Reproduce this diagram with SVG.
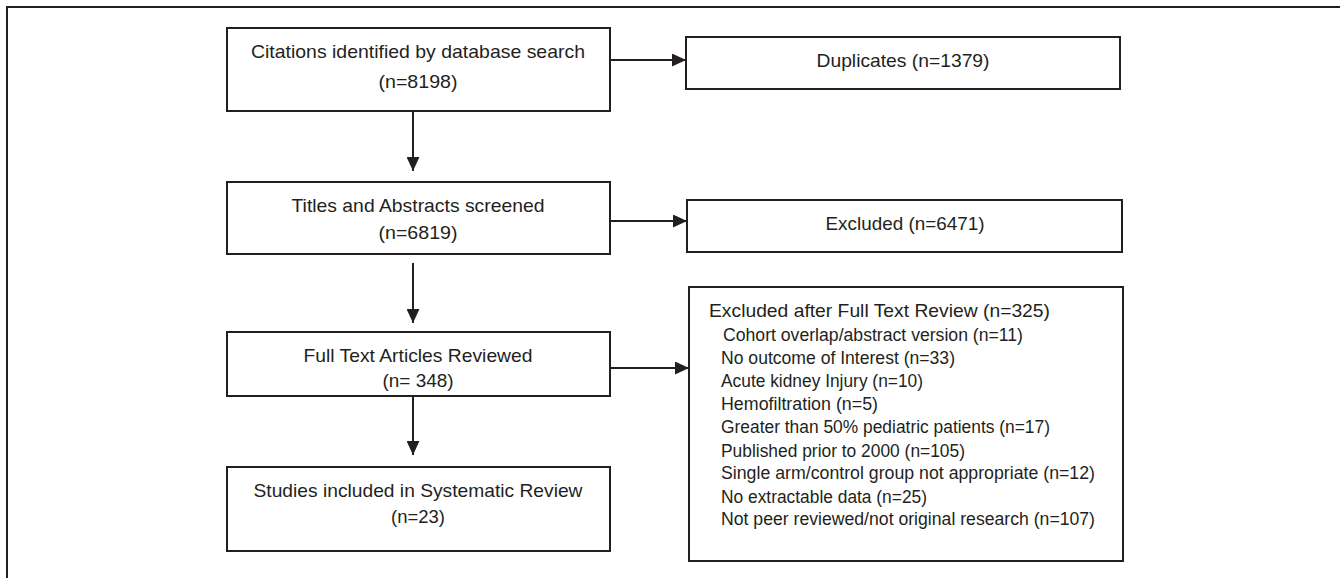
<svg xmlns="http://www.w3.org/2000/svg" width="1340" height="578" viewBox="0 0 1340 578">
<style>
.box{fill:#fff;stroke:#231f20;stroke-width:2}
.t{font-family:"Liberation Sans",Arial,sans-serif;font-size:19px;fill:#231f20;text-anchor:middle}
.h{font-family:"Liberation Sans",Arial,sans-serif;font-size:18.5px;fill:#231f20}
.i{font-family:"Liberation Sans",Arial,sans-serif;font-size:17.5px;fill:#231f20}
.c{fill:none;stroke:#231f20;stroke-width:2}
.frame{fill:none;stroke:#231f20;stroke-width:2}
</style>
<defs>
<marker id="ah" markerUnits="userSpaceOnUse" markerWidth="14" markerHeight="13" refX="14" refY="6.5" orient="auto">
<path d="M0,0 L14,6.5 L0,13 z" fill="#231f20"/>
</marker>
</defs>
<rect width="1340" height="578" fill="#fff"/>
<path class="frame" d="M7,578 V7 H1340"/>
<g id="connectors">
<path class="c" d="M610,60 H686" marker-end="url(#ah)"/>
<path class="c" d="M610,221 H687" marker-end="url(#ah)"/>
<path class="c" d="M610,368 H689" marker-end="url(#ah)"/>
<path class="c" d="M413,111 V171" marker-end="url(#ah)"/>
<path class="c" d="M413,263 V323" marker-end="url(#ah)"/>
<path class="c" d="M413,396 V455" marker-end="url(#ah)"/>
</g>
<g id="citations">
<rect class="box" x="227" y="28" width="383" height="83"/>
<text class="t" x="418" y="58" textLength="334" lengthAdjust="spacingAndGlyphs">Citations identified by database search</text>
<text class="t" x="418" y="88" textLength="79" lengthAdjust="spacingAndGlyphs">(n=8198)</text>
</g>
<g id="duplicates">
<rect class="box" x="686" y="37" width="434" height="52"/>
<text class="t" x="903" y="67" textLength="173" lengthAdjust="spacingAndGlyphs">Duplicates (n=1379)</text>
</g>
<g id="titles">
<rect class="box" x="227" y="182" width="383" height="72"/>
<text class="t" x="418" y="212" textLength="253" lengthAdjust="spacingAndGlyphs">Titles and Abstracts screened</text>
<text class="t" x="418" y="239" textLength="79" lengthAdjust="spacingAndGlyphs">(n=6819)</text>
</g>
<g id="excluded">
<rect class="box" x="687" y="200" width="435" height="52"/>
<text class="t" x="905" y="230" textLength="159" lengthAdjust="spacingAndGlyphs">Excluded (n=6471)</text>
</g>
<g id="fulltext">
<rect class="box" x="227" y="332" width="383" height="64"/>
<text class="t" x="418" y="362" textLength="229" lengthAdjust="spacingAndGlyphs">Full Text Articles Reviewed</text>
<text class="t" x="418" y="387" textLength="71" lengthAdjust="spacingAndGlyphs">(n= 348)</text>
</g>
<g id="included">
<rect class="box" x="227" y="467" width="383" height="84"/>
<text class="t" x="418" y="497" textLength="329" lengthAdjust="spacingAndGlyphs">Studies included in Systematic Review</text>
<text class="t" x="418" y="523" textLength="54" lengthAdjust="spacingAndGlyphs">(n=23)</text>
</g>
<g id="excluded-fulltext">
<rect class="box" x="689" y="287" width="434" height="274"/>
<text class="h" x="709" y="317" textLength="341" lengthAdjust="spacingAndGlyphs">Excluded after Full Text Review (n=325)</text>
<text class="i" x="723" y="341" textLength="300" lengthAdjust="spacingAndGlyphs">Cohort overlap/abstract version (n=11)</text>
<text class="i" x="721" y="364" textLength="234" lengthAdjust="spacingAndGlyphs">No outcome of Interest (n=33)</text>
<text class="i" x="721" y="387" textLength="202" lengthAdjust="spacingAndGlyphs">Acute kidney Injury (n=10)</text>
<text class="i" x="721" y="410" textLength="157" lengthAdjust="spacingAndGlyphs">Hemofiltration (n=5)</text>
<text class="i" x="721" y="433" textLength="329" lengthAdjust="spacingAndGlyphs">Greater than 50% pediatric patients (n=17)</text>
<text class="i" x="721" y="457" textLength="244" lengthAdjust="spacingAndGlyphs">Published prior to 2000 (n=105)</text>
<text class="i" x="721" y="479" textLength="374" lengthAdjust="spacingAndGlyphs">Single arm/control group not appropriate (n=12)</text>
<text class="i" x="721" y="503" textLength="206" lengthAdjust="spacingAndGlyphs">No extractable data (n=25)</text>
<text class="i" x="721" y="525" textLength="374" lengthAdjust="spacingAndGlyphs">Not peer reviewed/not original research (n=107)</text>
</g>
</svg>
